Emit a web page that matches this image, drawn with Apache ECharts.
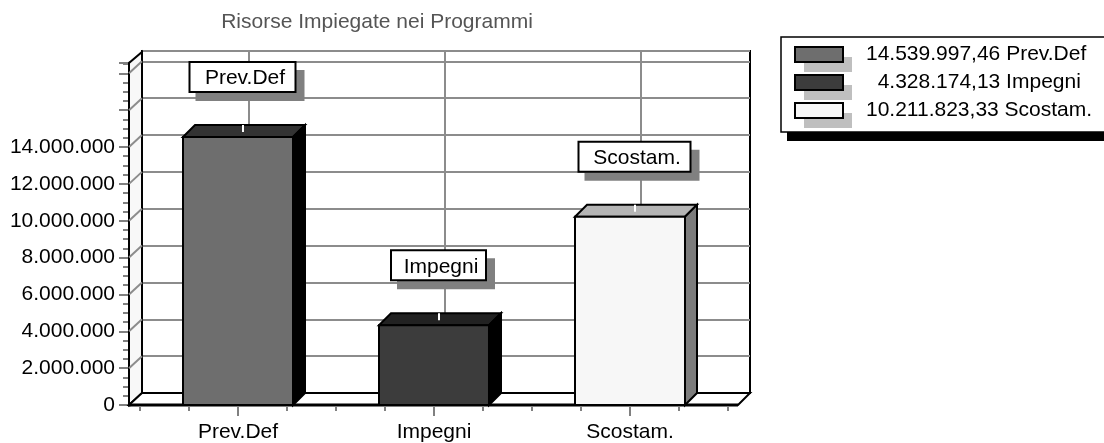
<!DOCTYPE html>
<html>
<head>
<meta charset="utf-8">
<style>
html, body { margin: 0; padding: 0; background: #fff; }
#chart { width: 1104px; height: 443px; }
</style>
<script src="https://cdn.jsdelivr.net/npm/echarts@6/dist/echarts.min.js"></script>
</head>
<body>
<div id="chart"></div>
<script>
// dati
const categories = ['Prev.Def', 'Impegni', 'Scostam.'];
const values = [14539997.46, 4328174.13, 10211823.33];
const legendAmounts = ['14.539.997,46', '  4.328.174,13', '10.211.823,33'];
const yTicks = [0, 2000000, 4000000, 6000000, 8000000, 10000000, 12000000, 14000000, 16000000, 18000000];
const yLabels = ['0', '2.000.000', '4.000.000', '6.000.000', '8.000.000', '10.000.000', '12.000.000', '14.000.000'];

const yMax = 18560000;
const depth = 12;           // profondita della finta vista 3D
const font = 'Liberation Sans, Arial, sans-serif';

// colori per barra: fronte, sopra, lato
const barFront = ['#6e6e6e', '#3c3c3c', '#f7f7f7'];
const barTop = ['#333333', '#222222', '#b5b5b5'];
const barSide = ['#000000', '#000000', '#7c7c7c'];
const boxWidths = [106, 95, 112];

const chart = echarts.init(document.getElementById('chart'));

// pareti, pavimento e tacche
function renderFrame(params, api) {
    const o = api.coord([0, 0]);
    const band = api.size([1, 0])[0];
    const x0 = o[0] - band / 2;          // inizio della prima banda
    const left = x0 - 11;
    const right = x0 + band * 3 + 10;
    const yBase = o[1];
    const yTop = api.coord([0, yMax])[1];
    const children = [
        { type: 'polygon', shape: { points: [[left, yBase], [left + depth + 1, yBase - depth], [left + depth + 1, yTop - depth + 1], [left, yTop]] },
          style: { fill: '#f8f8f8', stroke: '#000', lineWidth: 2 } },
        { type: 'polygon', shape: { points: [[left, yBase], [left + depth + 1, yBase - depth], [right + depth, yBase - depth], [right, yBase]] },
          style: { fill: '#fff', stroke: '#000', lineWidth: 2 } }
    ];
    // linee verticali sulla parete di fondo
    categories.forEach((c, i) => {
        const x = api.coord([i, 0])[0] + depth - 1;
        children.push({ type: 'line', shape: { x1: x, y1: yTop - depth + 1, x2: x, y2: yBase - depth }, style: { stroke: '#8c8c8c', lineWidth: 2 } });
    });
    yTicks.forEach(v => {
        if (v === 0) return;
        const y = api.coord([0, v])[1];
        children.push({ type: 'line', shape: { x1: left, y1: y, x2: left + depth + 1, y2: y - depth }, style: { stroke: '#8c8c8c', lineWidth: 2 } });
    });
    children.push({ type: 'line', shape: { x1: left, y1: yBase, x2: right, y2: yBase }, style: { stroke: '#000', lineWidth: 3 } });
    // tacche asse x: lunghe al centro delle bande, corte ogni quarto
    for (let i = 0; i <= 12; i++) {
        const x = x0 + band * i / 4;
        const long = i % 4 === 2;
        children.push({ type: 'line', shape: { x1: x, y1: yBase + 1, x2: x, y2: yBase + (long ? 11 : 6) }, style: { stroke: '#808080', lineWidth: 2 } });
    }
    return { type: 'group', children: children };
}

// barra 3D con etichetta a box
function renderBar(params, api) {
    const i = api.value(0);
    const p = api.coord([i, api.value(1)]);
    const base = api.coord([i, 0]);
    const w = api.size([1, 0])[0] * 0.5612;
    const l = p[0] - w / 2, r = p[0] + w / 2, t = p[1], b = base[1];
    const d = depth;
    const boxW = boxWidths[i], boxH = 30;
    const boxL = p[0] + 4.5 - boxW / 2, boxT = t - 45 - boxH;
    return {
        type: 'group',
        children: [
            { type: 'polygon', shape: { points: [[l, t], [l + d, t - d], [r + d, t - d], [r, t]] }, style: { fill: barTop[i], stroke: '#000', lineWidth: 2 } },
            { type: 'polygon', shape: { points: [[r, t], [r + d, t - d], [r + d, b - d], [r, b]] }, style: { fill: barSide[i], stroke: '#000', lineWidth: 2 } },
            { type: 'rect', shape: { x: l, y: t, width: r - l, height: b - t }, style: { fill: barFront[i], stroke: '#000', lineWidth: 2 } },
            { type: 'line', shape: { x1: p[0] + 5, y1: t - d, x2: p[0] + 5, y2: t - d + 7 }, style: { stroke: '#fff', lineWidth: 2 } },
            { type: 'rect', shape: { x: boxL + 6, y: boxT + 8, width: boxW + 3, height: boxH + 1 }, style: { fill: '#808080' } },
            { type: 'rect', shape: { x: boxL, y: boxT, width: boxW, height: boxH }, style: { fill: '#fff', stroke: '#000', lineWidth: 2 } },
            { type: 'text', style: { text: categories[i], x: boxL + boxW / 2 + 2.5, y: boxT + boxH / 2 + 1.5, textAlign: 'center', textVerticalAlign: 'middle',
                fill: '#000', font: '21px ' + font } }
        ]
    };
}

const barSeries = categories.map((name, i) => ({
    type: 'custom',
    name: name,
    xAxisIndex: 0,
    yAxisIndex: 0,
    z: 3,
    renderItem: renderBar,
    encode: { x: 0, y: 1 },
    data: [[i, values[i]]]
}));

// riquadro legenda e ombre delle icone
const legendBack = [
    { type: 'rect', shape: { x: 787, y: 132, width: 317, height: 9 }, style: { fill: '#000' } },
    { type: 'rect', shape: { x: 781, y: 37, width: 330, height: 95 }, style: { fill: '#fff', stroke: '#000', lineWidth: 1.5 } }
];
[47, 75, 103].forEach(y => {
    legendBack.push({ type: 'rect', shape: { x: 804, y: y + 10, width: 48, height: 15 }, style: { fill: '#bfbfbf' } });
});

chart.setOption({
    animation: false,
    backgroundColor: '#fff',
    title: {
        text: 'Risorse Impiegate nei Programmi',
        left: 372,
        top: 7,
        textAlign: 'center',
        textStyle: { color: '#555', fontWeight: 'normal', fontSize: 21, fontFamily: font }
    },
    graphic: legendBack.map(g => Object.assign({ z: 0, silent: true }, g)),
    legend: {
        left: 794,
        top: 44,
        padding: 0,
        orient: 'vertical',
        itemWidth: 48,
        itemHeight: 15,
        itemGap: 7,
        selectedMode: false,
        z: 5,
        data: categories.map((name, i) => ({
            name: name,
            icon: 'rect',
            itemStyle: { color: barFront[i], borderColor: '#000', borderWidth: 2 }
        })),
        formatter: name => legendAmounts[categories.indexOf(name)] + ' ' + name,
        textStyle: { color: '#000', fontSize: 21, fontFamily: font, padding: [0, 0, 0, 18] }
    },
    grid: [
        { left: 140, top: 63, width: 588, height: 342, show: false },
        { left: 142, top: 51, width: 608, height: 342, show: true, backgroundColor: '#fff', borderColor: '#000', borderWidth: 2 }
    ],
    xAxis: [
        {
            type: 'category', gridIndex: 0, data: categories,
            axisLine: { show: false },
            axisTick: { show: false },
            axisLabel: { color: '#000', fontSize: 21, fontFamily: font, margin: 17 }
        },
        {
            type: 'category', gridIndex: 1, data: categories,
            axisLine: { show: false },
            axisTick: { show: false },
            axisLabel: { show: false },
            splitLine: { show: false }
        }
    ],
    yAxis: [
        {
            type: 'value', gridIndex: 0, min: 0, max: yMax, interval: 2000000, offset: 11,
            axisLine: { show: true, lineStyle: { color: '#000', width: 3 } },
            axisTick: { show: true, length: 10, lineStyle: { color: '#808080', width: 2 } },
            minorTick: { show: true, splitNumber: 4, length: 6, lineStyle: { color: '#808080', width: 2 } },
            splitLine: { show: false },
            axisLabel: {
                color: '#000', fontSize: 21, fontFamily: font, margin: 14,
                customValues: yLabels.map((s, i) => yTicks[i]),
                formatter: v => yLabels[yTicks.indexOf(v)] || ''
            }
        },
        {
            type: 'value', gridIndex: 1, min: 0, max: yMax, interval: 2000000,
            axisLine: { show: false },
            axisTick: { show: false },
            axisLabel: { show: false },
            splitLine: { show: true, lineStyle: { color: '#8c8c8c', width: 2 } }
        }
    ],
    series: [
        {
            type: 'custom',
            name: 'frame',
            xAxisIndex: 0,
            yAxisIndex: 0,
            z: 1,
            silent: true,
            renderItem: renderFrame,
            data: [[0, 0]]
        }
    ].concat(barSeries)
});
</script>
</body>
</html>
